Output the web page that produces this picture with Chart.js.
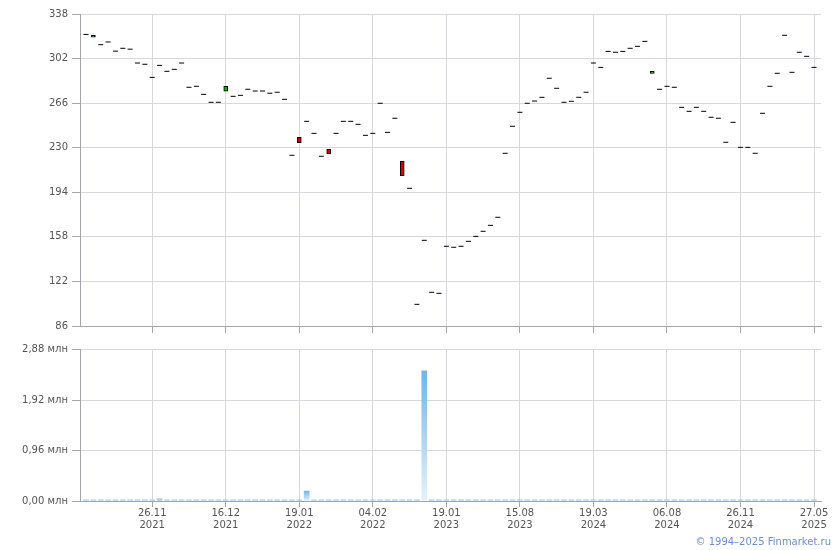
<!DOCTYPE html>
<html>
<head>
<meta charset="utf-8">
<script src="https://cdn.jsdelivr.net/npm/chart.js@4/dist/chart.umd.min.js"></script>
<style>
  html, body { margin: 0; padding: 0; background: #fff; }
  #wrap { position: relative; width: 840px; height: 550px; overflow: hidden; }
  #top { position: absolute; left: 0; top: 0; }
  #bot { position: absolute; left: 0; top: 340px; }
  #copy { position: absolute; right: 9px; top: 536px; font: 10px "DejaVu Sans", sans-serif; color: #6a8cd6; white-space: nowrap; }
</style>
</head>
<body>
<div id="wrap">
  <canvas id="top" width="840" height="340"></canvas>
  <canvas id="bot" width="840" height="210"></canvas>
  <div id="copy">© 1994–2025 Finmarket.ru</div>
</div>
<script>
// ---- data (one entry per trading session, index 0..99) ----
const closePrice = [
  321.5, 320.8, 313.2, 315.4, 308.0, 310.3, 309.6, 298.4, 297.4, 286.8,
  296.5, 291.7, 293.3, 298.4, 278.8, 279.6, 273.1, 266.7, 266.7, 279.6,
  271.5, 272.3, 277.2, 275.8, 275.8, 274.0, 274.8, 269.1, 223.9, 234.0,
  251.3, 241.6, 223.1, 225.0, 241.6, 251.3, 251.3, 248.9, 240.0, 241.6,
  265.9, 242.4, 253.8, 207.4, 197.2, 103.5, 155.2, 113.2, 112.4, 150.4,
  149.6, 150.4, 154.4, 158.4, 162.5, 167.3, 173.8, 225.5, 247.3, 258.6,
  265.9, 267.7, 270.7, 286.1, 278.0, 266.7, 267.5, 270.7, 274.8, 298.4,
  294.9, 307.8, 307.1, 307.8, 310.3, 311.9, 315.9, 291.7, 277.2, 279.6,
  278.8, 262.6, 259.4, 262.6, 259.4, 254.6, 253.8, 234.4, 250.5, 230.3,
  230.3, 225.5, 257.8, 279.6, 290.1, 320.8, 290.9, 307.1, 303.8, 294.9
];
const openPrice = [
  321.5, 319.2, 313.2, 315.4, 308.0, 310.3, 309.6, 298.4, 297.4, 286.8,
  296.5, 291.7, 293.3, 298.4, 278.8, 279.6, 273.1, 266.7, 266.7, 275.6,
  271.5, 272.3, 277.2, 275.8, 275.8, 274.0, 274.8, 269.1, 223.9, 238.4,
  251.3, 241.6, 223.1, 228.7, 241.6, 251.3, 251.3, 248.9, 240.0, 241.6,
  265.9, 242.4, 253.8, 219.0, 197.2, 103.5, 155.2, 113.2, 112.4, 150.4,
  149.6, 150.4, 154.4, 158.4, 162.5, 167.3, 173.8, 225.5, 247.3, 258.6,
  265.9, 267.7, 270.7, 286.1, 278.0, 266.7, 267.5, 270.7, 274.8, 298.4,
  294.9, 307.8, 307.1, 307.8, 310.3, 311.9, 315.9, 290.1, 277.2, 279.6,
  278.8, 262.6, 259.4, 262.6, 259.4, 254.6, 253.8, 234.4, 250.5, 230.3,
  230.3, 225.5, 257.8, 279.6, 290.1, 320.8, 290.9, 307.1, 303.8, 294.9
];
// volume, millions
const volumeMln = [
  0.02, 0.02, 0.02, 0.02, 0.02, 0.02, 0.02, 0.02, 0.02, 0.02,
  0.045, 0.02, 0.02, 0.02, 0.02, 0.02, 0.02, 0.02, 0.02, 0.02,
  0.02, 0.02, 0.02, 0.02, 0.02, 0.02, 0.02, 0.02, 0.02, 0.02,
  0.19, 0.02, 0.02, 0.02, 0.02, 0.02, 0.02, 0.02, 0.02, 0.02,
  0.02, 0.02, 0.02, 0.02, 0.02, 0.02, 2.48, 0.02, 0.02, 0.02,
  0.02, 0.02, 0.02, 0.02, 0.02, 0.02, 0.02, 0.02, 0.02, 0.02,
  0.02, 0.02, 0.02, 0.02, 0.02, 0.02, 0.02, 0.02, 0.02, 0.02,
  0.02, 0.02, 0.02, 0.02, 0.02, 0.02, 0.02, 0.02, 0.02, 0.02,
  0.02, 0.02, 0.02, 0.02, 0.02, 0.02, 0.02, 0.02, 0.02, 0.02,
  0.02, 0.02, 0.02, 0.02, 0.02, 0.02, 0.02, 0.02, 0.02, 0.02
];
const xTickIndex = [9, 19, 29, 39, 49, 59, 69, 79, 89, 99];
const xTickLabels = [
  ["26.11", "2021"], ["16.12", "2021"], ["19.01", "2022"], ["04.02", "2022"], ["19.01", "2023"],
  ["15.08", "2023"], ["19.03", "2024"], ["06.08", "2024"], ["26.11", "2024"], ["27.05", "2025"]
];
const priceTicks = [86, 122, 158, 194, 230, 266, 302, 338];
const volumeTicks = [0, 0.96, 1.92, 2.88];

// ---- styling ----
const GRID = '#d5d9dd';
const AXIS = '#a3a7ad';
const TEXT = '#555555';
const FONT = { family: '"DejaVu Sans", Verdana, sans-serif', size: 10, lineHeight: 1.15 };
const X_MIN = -0.82, X_MAX = 99.95;

function xScale(showLabels, tickLen) {
  return {
    type: 'linear', min: X_MIN, max: X_MAX, offset: false,
    afterBuildTicks: s => { s.ticks = xTickIndex.map(v => ({ value: v })); },
    afterFit: s => { s.height = showLabels ? 49 : 14; },
    grid: { color: GRID, tickColor: AXIS, offset: false, tickLength: tickLen, drawTicks: true },
    border: { color: AXIS },
    ticks: {
      display: showLabels, color: TEXT, font: FONT, padding: 1, maxRotation: 0, autoSkip: false,
      callback: v => { const k = xTickIndex.indexOf(v); return k >= 0 ? xTickLabels[k] : ''; }
    }
  };
}

const dojiPts = [], boxPts = [], boxColors = [];
closePrice.forEach((c, i) => {
  const o = openPrice[i];
  if (o === c) { dojiPts.push({ x: i, y: c }); }
  else { boxPts.push({ x: i, y: [o, c] }); boxColors.push(c > o ? '#0fb00f' : '#d40000'); }
});

new Chart(document.getElementById('top'), {
  type: 'bar',
  data: {
    datasets: [
      { type: 'bar', data: boxPts, backgroundColor: boxColors, borderColor: '#000', borderWidth: 1,
        borderSkipped: false, barThickness: 4 },
      { type: 'line', data: dojiPts, showLine: false, pointStyle: 'line', pointRadius: 2.5,
        pointHoverRadius: 2.5, pointBorderWidth: 1, borderColor: '#000', backgroundColor: '#000' }
    ]
  },
  options: {
    responsive: false, animation: false,
    layout: { padding: { top: 14, right: 19, left: 0, bottom: 0 } },
    plugins: { legend: { display: false }, tooltip: { enabled: false } },
    scales: {
      x: xScale(false, 7),
      y: {
        type: 'linear', min: 86, max: 338,
        afterBuildTicks: s => { s.ticks = priceTicks.map(v => ({ value: v })); },
        afterFit: s => { s.width = 80; },
        grid: { color: GRID, tickColor: AXIS, tickLength: 8 },
        border: { color: AXIS },
        ticks: { color: TEXT, font: FONT, padding: 4, callback: v => String(v) }
      }
    }
  }
});

new Chart(document.getElementById('bot'), {
  type: 'bar',
  data: {
    datasets: [{
      data: volumeMln.map((v, i) => ({ x: i, y: v })),
      barThickness: 5, borderWidth: 0,
      backgroundColor: ctx => {
        const ch = ctx.chart;
        if (!ch.chartArea || ctx.raw == null) return '#a3cdf0';
        const ys = ch.scales.y;
        const top = ys.getPixelForValue(ctx.raw.y);
        const base = ys.getPixelForValue(0);
        if (base - top < 4) return '#a3cdf0';
        const g = ch.ctx.createLinearGradient(0, top, 0, base);
        g.addColorStop(0, '#6fb5ec');
        g.addColorStop(1, '#e6f1fb');
        return g;
      }
    }]
  },
  options: {
    responsive: false, animation: false,
    layout: { padding: { top: 9, right: 19, left: 0, bottom: 0 } },
    plugins: { legend: { display: false }, tooltip: { enabled: false } },
    scales: {
      x: xScale(true, 6),
      y: {
        type: 'linear', min: 0, max: 2.88,
        afterBuildTicks: s => { s.ticks = volumeTicks.map(v => ({ value: v })); },
        afterFit: s => { s.width = 80; },
        grid: { color: GRID, tickColor: AXIS, tickLength: 8 },
        border: { color: AXIS },
        ticks: { color: TEXT, font: FONT, padding: 4,
          callback: v => v.toFixed(2).replace('.', ',') + ' млн' }
      }
    }
  }
});
</script>
</body>
</html>
